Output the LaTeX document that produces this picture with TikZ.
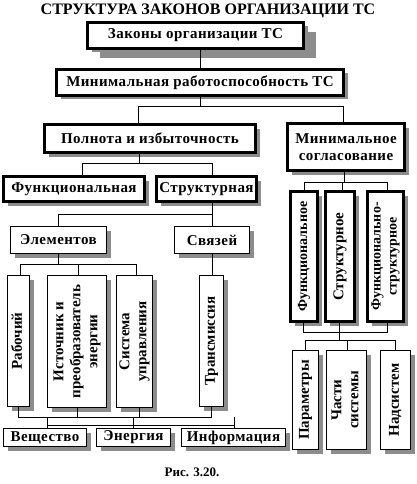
\documentclass[tikz,border=0pt]{standalone}
\usepackage{fontspec}
\setmainfont{Liberation Serif}
\newfontfamily\boxfont[LetterSpace=3]{Liberation Serif}
\usetikzlibrary{shadows}
\newcommand{\vtext}[1]{\rotatebox{90}{\begin{tabular}{@{}c@{}}#1\end{tabular}}}

\begin{document}
\begin{tikzpicture}[x=1pt,y=-1pt,
  box/.style={draw, fill=white, line width=1pt, inner sep=0pt, align=center,
    font=\boxfont\fontsize{15}{17}\selectfont\bfseries,
    drop shadow={shadow xshift=4pt, shadow yshift=-4pt, fill=black!45, opacity=1}},
  tbox/.style={box, line width=3pt},
  vbox/.style={box, font=\fontsize{15}{17}\selectfont\bfseries},
  wire/.style={line width=1pt}]
\useasboundingbox (0,0) rectangle (416,484);

\node[font=\fontsize{16}{18}\selectfont\bfseries] (title) at (208,11) {СТРУКТУРА ЗАКОНОВ ОРГАНИЗАЦИИ ТС};

\node[tbox, minimum width=216, minimum height=26,
  drop shadow={shadow xshift=12pt, shadow yshift=-10pt, fill=black!45, opacity=1}] (zak) at (195.5,35.5) {Законы организации ТС};
\node[tbox, minimum width=287, minimum height=26] (minr) at (200,82.5) {Минимальная работоспособность ТС};
\node[tbox, minimum width=211, minimum height=28] (poln) at (150,138.5) {Полнота и избыточность};
\node[tbox, minimum width=117, minimum height=47] (sogl) at (346,147) {Минимальное\\согласование};
\node[tbox, minimum width=141, minimum height=25] (funk) at (74,189) {Функциональная};
\node[tbox, minimum width=100, minimum height=25] (strk) at (206.5,189) {Структурная};

\node[box, minimum width=96, minimum height=27] (elem) at (58.5,240) {Элементов};
\node[box, minimum width=75, minimum height=27] (svaz) at (212,240) {Связей};

\node[vbox, minimum width=22, minimum height=131] (rab) at (18.5,341) {\vtext{Рабочий}};
\node[vbox, minimum width=59, minimum height=132] (ist) at (77,341.5) {\vtext{Источник и\\преобразователь\\энергии}};
\node[vbox, minimum width=36, minimum height=132] (sist) at (134.5,341.5) {\vtext{Система\\управления}};
\node[vbox, minimum width=24, minimum height=131] (trans) at (211.5,341) {\vtext{Трансмиссия}};

\node[box, minimum width=83, minimum height=18] (vesh) at (45,437.5) {Вещество};
\node[box, minimum width=74, minimum height=18] (energ) at (133.5,437.5) {Энергия};
\node[box, minimum width=104, minimum height=18] (inform) at (233.5,437.5) {Информация};

\node[tbox, vbox, line width=3pt, font=\fontsize{14}{16}\selectfont\bfseries,
  minimum width=27, minimum height=130] (ffunk) at (304,256.5) {\vtext{Функциональное}};
\node[tbox, vbox, line width=3pt, minimum width=29, minimum height=130] (fstrk) at (340,256.5) {\vtext{Структурное}};
\node[tbox, vbox, line width=3pt, font=\fontsize{14}{16}\selectfont\bfseries,
  minimum width=36, minimum height=130] (ffs) at (385.5,256.5) {\vtext{Функционально-\\структурное}};

\node[vbox, minimum width=26, minimum height=99] (param) at (305.5,400) {\vtext{Параметры}};
\node[vbox, minimum width=40, minimum height=99] (chast) at (346.5,400) {\vtext{Части\\системы}};
\node[vbox, minimum width=30, minimum height=99] (nads) at (395.5,400) {\vtext{Надсистем}};

\node[font=\fontsize{13}{15}\selectfont\bfseries] (cap) at (192,472) {Рис. 3.20.};

% bus points
\coordinate (b1l) at (138,107);
\coordinate (b1r) at (343,107);
\coordinate (b2l) at (82,163);
\coordinate (b2m) at (139,163);
\coordinate (b2r) at (212,163);
\coordinate (b3l) at (58,214);
\coordinate (b3r) at (212,214);
\coordinate (b4l) at (20,264);
\coordinate (b4m) at (78,264);
\coordinate (b4r) at (136,264);
\coordinate (b5l) at (18,417);
\coordinate (b5a) at (77,417);
\coordinate (b5b) at (139,417);
\coordinate (b5r) at (211,417);
\coordinate (b6l) at (47,425);
\coordinate (b6m) at (133,425);
\coordinate (b6r) at (234,425);
\coordinate (b7l) at (304,182);
\coordinate (b7c) at (342,182);
\coordinate (b7m) at (344,182);
\coordinate (b7r) at (387,182);
\coordinate (b8l) at (303,332);
\coordinate (b8m) at (339,332);
\coordinate (b8r) at (387,332);
\coordinate (b9l) at (305,340);
\coordinate (b9m) at (347,340);
\coordinate (b9r) at (395,340);

\draw[wire] (minr.north) -- (minr.north |- zak.south);
\draw[wire] (minr.south) -- (minr.south |- b1l);
\draw[wire] (b1l |- poln.north) -- (b1l) -- (b1r) -- (b1r |- sogl.north);

\draw[wire] (b2m |- poln.south) -- (b2m);
\draw[wire] (b2l |- funk.north) -- (b2l) -- (b2r) -- (b2r |- strk.north);

\draw[wire] (b3r |- strk.south) -- (b3r |- svaz.north);
\draw[wire] (b3r) -- (b3l) -- (b3l |- elem.north);

\draw[wire] (b3l |- elem.south) -- (b3l |- b4l);
\draw[wire] (b4l |- rab.north) -- (b4l) -- (b4r) -- (b4r |- sist.north);
\draw[wire] (b4m) -- (b4m |- ist.north);
\draw[wire] (b3r |- svaz.south) -- (b3r |- trans.north);

\draw[wire] (b5l |- rab.south) -- (b5l) -- (b5r) -- (b5r |- trans.south);
\draw[wire] (b5a |- ist.south) -- (b5a);
\draw[wire] (b5b |- sist.south) -- (b5b);
\draw[wire] (b6l) -- (b6r);
\draw[wire] (b6l |- b5l) -- (b6l |- vesh.north);
\draw[wire] (b6m |- b5l) -- (b6m |- energ.north);
\draw[wire] (b6r |- b5l) -- (b6r |- inform.north);

\draw[wire] (b7m |- sogl.south) -- (b7m);
\draw[wire] (b7l |- ffunk.north) -- (b7l) -- (b7r) -- (b7r |- ffs.north);
\draw[wire] (b7c) -- (b7c |- fstrk.north);

\draw[wire] (b8l |- ffunk.south) -- (b8l) -- (b8r) -- (b8r |- ffs.south);
\draw[wire] (b8m |- fstrk.south) -- (b8m |- b9l);
\draw[wire] (b9l |- param.north) -- (b9l) -- (b9r) -- (b9r |- nads.north);
\draw[wire] (b9m) -- (b9m |- chast.north);
\end{tikzpicture}
\end{document}
